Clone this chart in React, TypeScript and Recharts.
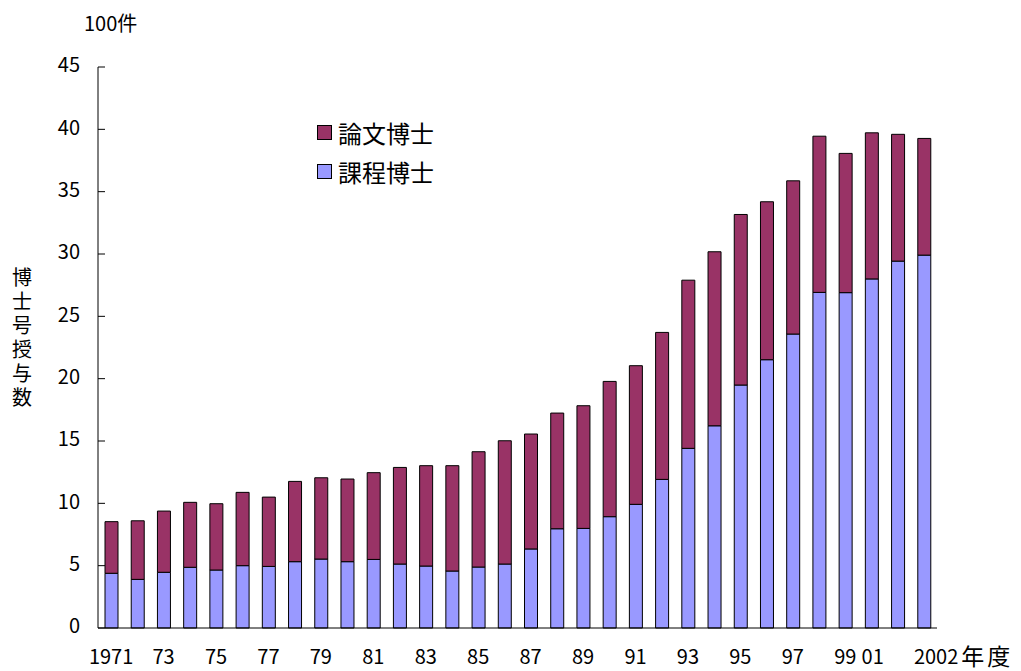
import { BarChart, Bar, XAxis, YAxis, Legend } from 'recharts';

const years = [
  1971, 1972, 1973, 1974, 1975, 1976, 1977, 1978, 1979, 1980, 1981, 1982, 1983, 1984, 1985, 1986,
  1987, 1988, 1989, 1990, 1991, 1992, 1993, 1994, 1995, 1996, 1997, 1998, 1999, 2000, 2001, 2002,
];
const tickLabels = [
  '1971', '', '73', '', '75', '', '77', '', '79', '', '81', '', '83', '', '85', '',
  '87', '', '89', '', '91', '', '93', '', '95', '', '97', '', '99', '', '01', '2002',
];
const lastSuffix = '年度';
// 課程博士 (100件)
const kotei = [
  4.39, 3.9, 4.47, 4.87, 4.65, 5.0, 4.94, 5.32, 5.53, 5.32, 5.5, 5.13, 4.97, 4.57, 4.89, 5.13,
  6.34, 7.96, 7.99, 8.93, 9.92, 11.92, 14.41, 16.22, 19.49, 21.52, 23.58, 26.92, 26.9, 28.0, 29.43, 29.91,
];
// 論文博士 (100件)
const ronbun = [
  4.14, 4.7, 4.91, 5.21, 5.32, 5.88, 5.56, 6.44, 6.52, 6.63, 6.96, 7.75, 8.05, 8.45, 9.25, 9.89,
  9.22, 9.28, 9.84, 10.85, 11.12, 11.79, 13.49, 13.96, 13.68, 12.67, 12.29, 12.53, 11.17, 11.72, 10.17, 9.36,
];
const yTicks = [0, 5, 10, 15, 20, 25, 30, 35, 40, 45];
const yLabel = '博士号授与数';
const unitLabel = '100件';

const data = years.map((y, i) => ({ year: y, kotei: kotei[i], ronbun: ronbun[i] }));

const FONT = '"Noto Sans CJK JP", "Noto Sans", sans-serif';
const KOTEI_COLOR = '#9999FF';
const RONBUN_COLOR = '#993366';

const XTick = (props: any) => {
  const { x, payload } = props;
  const label = tickLabels[payload.index];
  if (!label) return null;
  const ty = 659;
  if (payload.index === years.length - 1) {
    return (
      <text x={x - 10} y={ty} textAnchor="start" dominantBaseline="middle" fontSize={20} fill="#000" fontFamily={FONT}>
        {label}
        <tspan dx={3} fontSize={23} letterSpacing={3}>
          {lastSuffix}
        </tspan>
      </text>
    );
  }
  const dx = payload.index === years.length - 2 ? -25 : 0;
  return (
    <text x={x + dx} y={ty} textAnchor="middle" dominantBaseline="middle" fontSize={20} fill="#000" fontFamily={FONT}>
      {label}
    </text>
  );
};

const YTick = (props: any) => {
  const { y, payload } = props;
  return (
    <g>
      <line x1={98} x2={105} y1={y} y2={y} stroke="#000" strokeWidth={1} />
      <text x={80} y={y} textAnchor="end" dominantBaseline="middle" fontSize={20} fill="#000" fontFamily={FONT}>
        {payload.value}
      </text>
    </g>
  );
};

const YLabel = () => (
  <g fontFamily={FONT} fill="#000">
    <text x={84} y={26} fontSize={20} dominantBaseline="middle">
      {unitLabel}
    </text>
    <text x={22} y={267} fontSize={20} letterSpacing={4} style={{ writingMode: 'vertical-rl' }}>
      {yLabel}
    </text>
  </g>
);

const LegendContent = () => {
  const items = [
    { name: '論文博士', color: RONBUN_COLOR },
    { name: '課程博士', color: KOTEI_COLOR },
  ];
  return (
    <div style={{ fontFamily: FONT }}>
      {items.map((it) => (
        <div key={it.name} style={{ display: 'flex', alignItems: 'center', height: 39 }}>
          <span
            style={{
              display: 'inline-block',
              width: 13,
              height: 13,
              background: it.color,
              border: '1px solid #000',
              marginRight: 6,
            }}
          />
          <span style={{ fontSize: 24, lineHeight: 1, color: '#000' }}>{it.name}</span>
        </div>
      ))}
    </div>
  );
};

export default function App() {
  return (
    <div style={{ position: 'absolute', left: 0, top: 0, width: 1021, height: 671, background: '#fff' }}>
      <BarChart width={1021} height={671} data={data} margin={{ top: 67, right: 84, bottom: 0, left: 0 }} barSize={13}>
        <XAxis
          dataKey="year"
          height={43}
          interval={0}
          tickLine={false}
          tick={<XTick />}
          axisLine={{ stroke: '#000', strokeWidth: 1 }}
        />
        <YAxis
          width={98}
          domain={[0, 45]}
          ticks={yTicks}
          interval={0}
          tickLine={false}
          tick={<YTick />}
          axisLine={{ stroke: '#000', strokeWidth: 1 }}
          label={<YLabel />}
        />
        <Legend
          content={<LegendContent />}
          layout="horizontal"
          verticalAlign="middle"
          align="center"
          wrapperStyle={{ left: 317, top: 113, width: 160 }}
        />
        <Bar dataKey="kotei" name="課程博士" stackId="a" fill={KOTEI_COLOR} stroke="#000" strokeWidth={1} isAnimationActive={false} />
        <Bar dataKey="ronbun" name="論文博士" stackId="a" fill={RONBUN_COLOR} stroke="#000" strokeWidth={1} isAnimationActive={false} />
      </BarChart>
    </div>
  );
}
